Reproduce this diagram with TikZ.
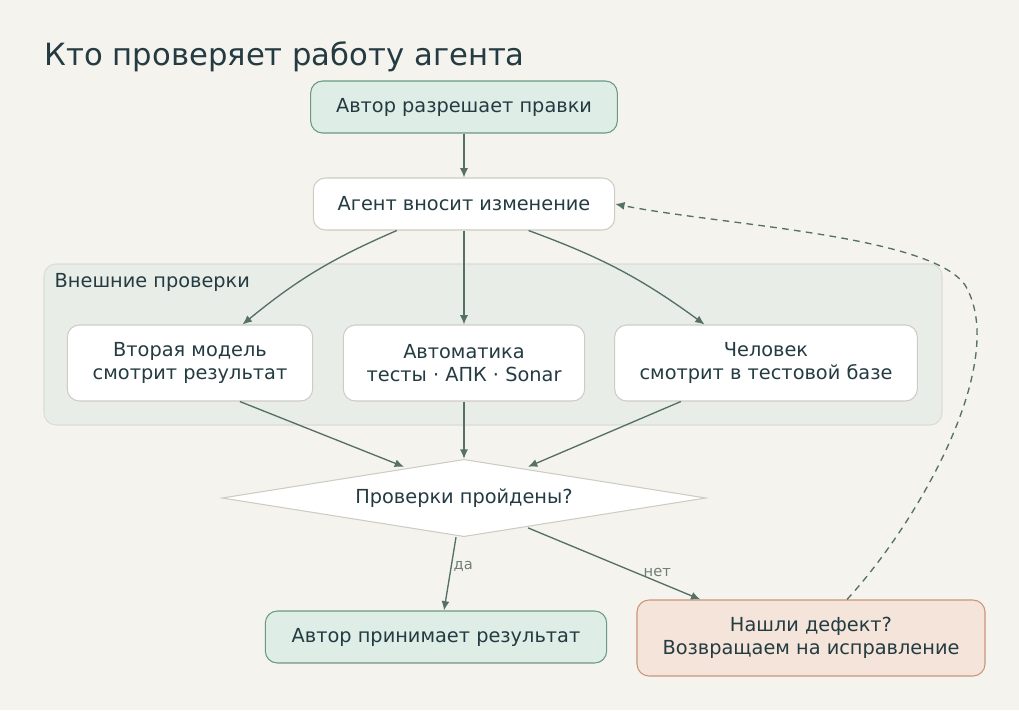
\documentclass[tikz,border=0pt]{standalone}
\usepackage{fontspec}
\setmainfont{DejaVu Sans}
\usetikzlibrary{shapes.geometric, positioning, arrows.meta}
\definecolor{bgc}{HTML}{F5F3EE}
\definecolor{ink}{HTML}{243B42}
\definecolor{edgec}{HTML}{557066}
\definecolor{greenf}{HTML}{DEEDE6}
\definecolor{greend}{HTML}{6A9A82}
\definecolor{boxd}{HTML}{CFCCC4}
\definecolor{clusf}{HTML}{E9EDE7}
\definecolor{clusd}{HTML}{D9DDD5}
\definecolor{redf}{HTML}{F4E4D9}
\definecolor{redd}{HTML}{C9967A}
\definecolor{lblc}{HTML}{6F7F78}

\tikzset{
    box/.style={rectangle, rounded corners=9pt, draw=boxd, fill=white, thick, text=ink,
        font=\fontsize{14.5}{17.5}\selectfont, align=center, inner sep=0pt},
    good/.style={box, draw=greend, fill=greenf},
    bad/.style={box, draw=redd, fill=redf},
    flow/.style={-{Latex[length=7pt,width=6pt]}, edgec, line width=1pt},
    elabel/.style={font=\fontsize{11}{13}\selectfont, text=lblc}
}

\begin{document}
\begin{tikzpicture}[x=0.75pt, y=-0.75pt]
        \fill[bgc] (0,0) rectangle (1019,710);
        \useasboundingbox (0,0) rectangle (1019,710);

        \node[anchor=west, text=ink, font=\fontsize{23}{27}\selectfont] (title) at (40,57) {Кто проверяет работу агента};

        \draw[fill=clusf, draw=clusd, thick, rounded corners=9pt] (44,264) rectangle (942,425);
        \node[anchor=west, text=ink, font=\fontsize{14.5}{17}\selectfont] (clus) at (50,282) {Внешние проверки};

        \node[good, minimum width=230pt, minimum height=39pt] (author) at (464,107) {Автор разрешает правки};
        \node[box, minimum width=226pt, minimum height=39pt] (agent) at (464,204) {Агент вносит изменение};
        \node[box, minimum width=184pt, minimum height=57pt] (second) at (190,363) {Вторая модель\\смотрит результат};
        \node[box, minimum width=181pt, minimum height=57pt] (auto) at (464,363) {Автоматика\\тесты · АПК · Sonar};
        \node[box, minimum width=227pt, minimum height=57pt] (human) at (766,363) {Человек\\смотрит в тестовой базе};
        \node[diamond, aspect=6.3, draw=boxd, fill=white, thick, text=ink, font=\fontsize{14.5}{17}\selectfont,
            minimum width=363pt, minimum height=58pt, inner sep=0pt] (check) at (464,498) {Проверки пройдены?};
        \node[good, minimum width=256pt, minimum height=39pt] (accept) at (436,637) {Автор принимает результат};
        \node[bad, minimum width=261pt, minimum height=57pt] (defect) at (811,638) {Нашли дефект?\\Возвращаем на исправление};

        \draw[flow] (author) -- (agent);
        \draw[flow] (agent.south) -- (auto);
        \draw[flow] (agent.south west) ++(63pt,0) to[bend right=8] ([xshift=-53pt]second.north east);
        \draw[flow] (agent.south east) ++(-65pt,0) to[bend left=8] ([xshift=-160pt]human.north east);
        \draw[flow] (second.south east) ++(-55pt,0) -- ([xshift=-45pt,yshift=-6pt]check.north);
        \draw[flow] (auto) -- (check);
        \draw[flow] (human.south west) ++(50pt,0) -- ([xshift=48pt,yshift=-6pt]check.north);
        \draw[flow] (check.south) ++(-6pt,0) -- node[elabel, right, pos=0.4, xshift=-2pt] {да} ([xshift=6pt]accept.north);
        \draw[flow] (check.south) ++(48pt,7pt) -- node[elabel, above, pos=0.75] {нет} ([xshift=-83pt]defect.north);
        \draw[flow, dashed, dash pattern=on 5pt off 4pt] (defect.north) ++(27pt,0) .. controls (920,520) and (1010,360) .. (965,285)
            .. controls (930,235) and (720,225) .. (agent.east);
    \end{tikzpicture}
\end{document}
